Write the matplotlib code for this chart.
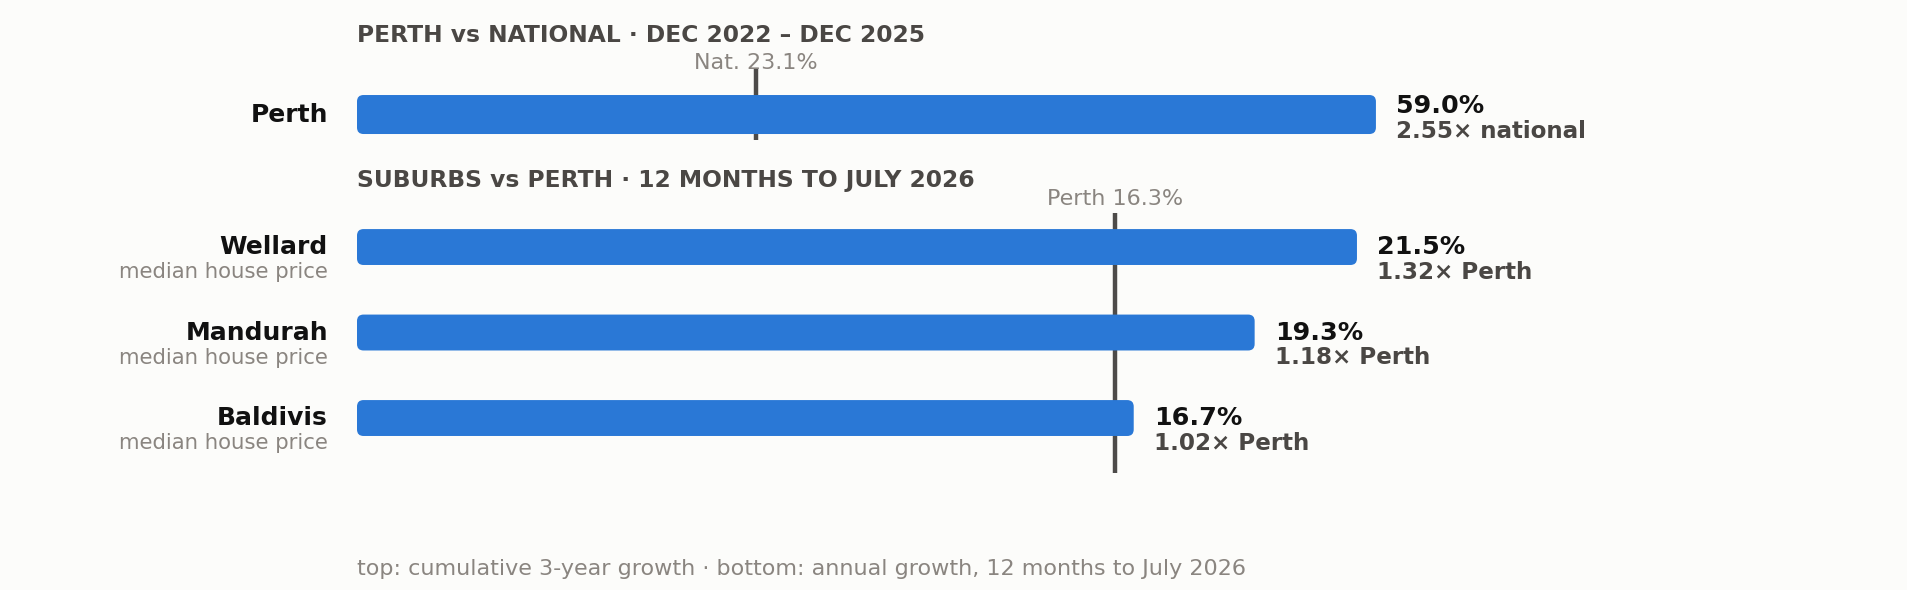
import matplotlib.pyplot as plt
from matplotlib.patches import FancyBboxPatch

# data
city_name = "Perth"
city_growth = 59.0
national_growth = 23.1
city_ratio_label = "2.55\u00d7 national"

suburbs = ["Wellard", "Mandurah", "Baldivis"]
suburb_growth = [21.5, 19.3, 16.7]
suburb_ratio_labels = ["1.32\u00d7 Perth", "1.18\u00d7 Perth", "1.02\u00d7 Perth"]
perth_annual = 16.3

top_title = "PERTH vs NATIONAL \u00b7 DEC 2022 \u2013 DEC 2025"
bottom_title = "SUBURBS vs PERTH \u00b7 12 MONTHS TO JULY 2026"
footer = "top: cumulative 3-year growth \u00b7 bottom: annual growth, 12 months to July 2026"

BG = "#fcfcfa"
BAR = "#2a78d6"
LINE = "#4d4b49"
DARK = "#4a4744"
GREY = "#8a8580"

W, H = 1908, 590
fig = plt.figure(figsize=(W / 100, H / 100), dpi=100, facecolor=BG)


def px_axes(x0, y0, x1, y1):
    # axes placed by pixel box (top-left origin)
    return fig.add_axes([x0 / W, 1 - y1 / H, (x1 - x0) / W, (y1 - y0) / H])


def rounded_bar(ax, y, value, height, aspect, radius):
    p = FancyBboxPatch((0, y - height / 2), value, height,
                       boxstyle=f"round,pad=0,rounding_size={radius}",
                       mutation_aspect=aspect, fc=BAR, ec="none", zorder=3)
    ax.add_patch(p)


def clean(ax):
    ax.set_facecolor("none")
    for s in ax.spines.values():
        s.set_visible(False)
    ax.set_xticks([])
    ax.set_yticks([])


x_left, x_right = 357, 1530
ax_w = x_right - x_left

# top panel: Perth vs national
ax1 = px_axes(x_left, 68, x_right, 140)
clean(ax1)
sx1 = 17.27
ax1.set_xlim(0, ax_w / sx1)
ax1.set_ylim(0.298, -0.544)
rounded_bar(ax1, 0, city_growth, 0.456, sx1 / 85.5, 6.5 / sx1)
ax1.axvline(national_growth, color=LINE, lw=3.2, zorder=1)
ax1.annotate(f"Nat. {national_growth:.1f}%", xy=(national_growth, 1),
             xycoords=ax1.get_xaxis_transform(), xytext=(0, 5),
             textcoords="offset pixels", ha="center", va="center",
             fontsize=16, color=GREY, zorder=5)
ax1.annotate(city_name, xy=(0, 0), xycoords=ax1.get_yaxis_transform(),
             xytext=(-29, 0), textcoords="offset pixels", ha="right",
             va="center", fontsize=18, fontweight="bold", color="#111111")
ax1.annotate(f"{city_growth:.1f}%", xy=(city_growth, 0), xytext=(20, 9),
             textcoords="offset pixels", ha="left", va="center",
             fontsize=18.3, fontweight="bold", color="#111111")
ax1.annotate(city_ratio_label, xy=(city_growth, 0), xytext=(20, -17),
             textcoords="offset pixels", ha="left", va="center",
             fontsize=16.6, fontweight="bold", color=DARK)

# bottom panel: suburbs vs Perth
ax2 = px_axes(x_left, 213, x_right, 473)
clean(ax2)
sx2 = 46.51
ax2.set_xlim(0, ax_w / sx2)
ax2.set_ylim(2.643, -0.398)
for i, (name, val, lab) in enumerate(zip(suburbs, suburb_growth, suburb_ratio_labels)):
    rounded_bar(ax2, i, val, 0.42, sx2 / 85.5, 6.5 / sx2)
    ax2.annotate(name, xy=(0, i), xycoords=ax2.get_yaxis_transform(),
                 xytext=(-29, 0), textcoords="offset pixels", ha="right",
                 va="center", fontsize=18, fontweight="bold", color="#111111")
    ax2.annotate("median house price", xy=(0, i), xycoords=ax2.get_yaxis_transform(),
                 xytext=(-29, -25), textcoords="offset pixels", ha="right",
                 va="center", fontsize=15.3, color=GREY)
    ax2.annotate(f"{val:.1f}%", xy=(val, i), xytext=(20, 0),
                 textcoords="offset pixels", ha="left", va="center",
                 fontsize=18.3, fontweight="bold", color="#111111")
    ax2.annotate(lab, xy=(val, i), xytext=(20, -25),
                 textcoords="offset pixels", ha="left", va="center",
                 fontsize=16.6, fontweight="bold", color=DARK)
ax2.axvline(perth_annual, color=LINE, lw=3.2, zorder=1)
ax2.annotate(f"Perth {perth_annual:.1f}%", xy=(perth_annual, 1),
             xycoords=ax2.get_xaxis_transform(), xytext=(0, 14),
             textcoords="offset pixels", ha="center", va="center",
             fontsize=16, color=GREY)

# titles and footer
fig.text(x_left / W, 1 - 35 / H, top_title, ha="left", va="center",
         fontsize=16.8, fontweight="bold", color=DARK)
fig.text(x_left / W, 1 - 181 / H, bottom_title, ha="left", va="center",
         fontsize=16.8, fontweight="bold", color=DARK)
fig.text(x_left / W, 1 - 569 / H, footer, ha="left", va="center",
         fontsize=16, color=GREY)

fig.savefig("out.png", dpi=100, facecolor=BG)
